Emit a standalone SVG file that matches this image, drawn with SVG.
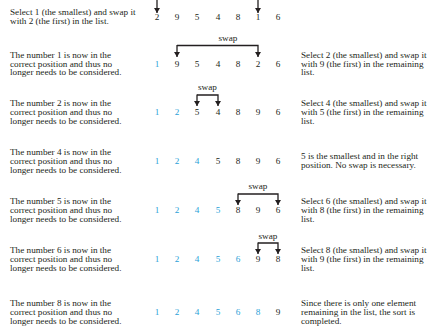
<svg xmlns="http://www.w3.org/2000/svg" width="432" height="331" viewBox="0 0 432 331" font-family="Liberation Serif, Times New Roman, serif" font-size="9.2">
<style>
text{font-family:'Liberation Serif','Times New Roman',serif;font-size:9.2px;fill:#231f20}
.n{text-anchor:middle}
.b{fill:#2a9fd8}
.sw{text-anchor:middle}
.c{fill:none;stroke:#231f20;stroke-width:1.3}
</style>
<defs>
<marker id="ah" markerUnits="userSpaceOnUse" markerWidth="5" markerHeight="6" refX="5" refY="3" orient="auto">
<path d="M0,0 L5,3 L0,6 z" fill="#231f20"/>
</marker>
</defs>
<rect width="432" height="331" fill="#fff"/>
<g id="connectors">
<path class="c" d="M157,0 V13" marker-end="url(#ah)"/>
<path class="c" d="M258,0 V13" marker-end="url(#ah)"/>
<path class="c" d="M177,45.5 H258 V57" marker-end="url(#ah)"/>
<path class="c" d="M177,45 V57" marker-end="url(#ah)"/>
<path class="c" d="M197,95 H218 V106" marker-end="url(#ah)"/>
<path class="c" d="M197,94.5 V106" marker-end="url(#ah)"/>
<path class="c" d="M238,194 H278 V205" marker-end="url(#ah)"/>
<path class="c" d="M238,193.5 V205" marker-end="url(#ah)"/>
<path class="c" d="M258,243 H278 V254" marker-end="url(#ah)"/>
<path class="c" d="M258,242.5 V254" marker-end="url(#ah)"/>
</g>
<g id="row1">
<text x="10" y="15">Select 1 (the smallest) and swap it</text>
<text x="10" y="23.5">with 2 (the first) in the list.</text>
<text class="n" x="157" y="19.5">2</text><text class="n" x="177" y="19.5">9</text><text class="n" x="197" y="19.5">5</text><text class="n" x="218" y="19.5">4</text><text class="n" x="238" y="19.5">8</text><text class="n" x="258" y="19.5">1</text><text class="n" x="278" y="19.5">6</text>
</g>
<g id="row2">
<text class="sw" x="228" y="41">swap</text>
<text x="10" y="58">The number 1 is now in the</text>
<text x="10" y="66.5">correct position and thus no</text>
<text x="10" y="75">longer needs to be considered.</text>
<text class="n b" x="157" y="66.5">1</text><text class="n" x="177" y="66.5">9</text><text class="n" x="197" y="66.5">5</text><text class="n" x="218" y="66.5">4</text><text class="n" x="238" y="66.5">8</text><text class="n" x="258" y="66.5">2</text><text class="n" x="278" y="66.5">6</text>
<text x="301" y="58">Select 2 (the smallest) and swap it</text>
<text x="301" y="66.5">with 9 (the first) in the remaining</text>
<text x="301" y="75">list.</text>
</g>
<g id="row3">
<text class="sw" x="207.5" y="90">swap</text>
<text x="10" y="106">The number 2 is now in the</text>
<text x="10" y="115">correct position and thus no</text>
<text x="10" y="124">longer needs to be considered.</text>
<text class="n b" x="157" y="115">1</text><text class="n b" x="177" y="115">2</text><text class="n" x="197" y="115">5</text><text class="n" x="218" y="115">4</text><text class="n" x="238" y="115">8</text><text class="n" x="258" y="115">9</text><text class="n" x="278" y="115">6</text>
<text x="301" y="106">Select 4 (the smallest) and swap it</text>
<text x="301" y="115">with 5 (the first) in the remaining</text>
<text x="301" y="124">list.</text>
</g>
<g id="row4">
<text x="10" y="155">The number 4 is now in the</text>
<text x="10" y="164">correct position and thus no</text>
<text x="10" y="173">longer needs to be considered.</text>
<text class="n b" x="157" y="164">1</text><text class="n b" x="177" y="164">2</text><text class="n b" x="197" y="164">4</text><text class="n" x="218" y="164">5</text><text class="n" x="238" y="164">8</text><text class="n" x="258" y="164">9</text><text class="n" x="278" y="164">6</text>
<text x="301" y="159">5 is the smallest and in the right</text>
<text x="301" y="168">position. No swap is necessary.</text>
</g>
<g id="row5">
<text class="sw" x="258" y="189">swap</text>
<text x="10" y="204">The number 5 is now in the</text>
<text x="10" y="213">correct position and thus no</text>
<text x="10" y="222">longer needs to be considered.</text>
<text class="n b" x="157" y="213">1</text><text class="n b" x="177" y="213">2</text><text class="n b" x="197" y="213">4</text><text class="n b" x="218" y="213">5</text><text class="n" x="238" y="213">8</text><text class="n" x="258" y="213">9</text><text class="n" x="278" y="213">6</text>
<text x="301" y="204">Select 6 (the smallest) and swap it</text>
<text x="301" y="213">with 8 (the first) in the remaining</text>
<text x="301" y="222">list.</text>
</g>
<g id="row6">
<text class="sw" x="268" y="239">swap</text>
<text x="10" y="253">The number 6 is now in the</text>
<text x="10" y="262">correct position and thus no</text>
<text x="10" y="271">longer needs to be considered.</text>
<text class="n b" x="157" y="262">1</text><text class="n b" x="177" y="262">2</text><text class="n b" x="197" y="262">4</text><text class="n b" x="218" y="262">5</text><text class="n b" x="238" y="262">6</text><text class="n" x="258" y="262">9</text><text class="n" x="278" y="262">8</text>
<text x="301" y="253">Select 8 (the smallest) and swap it</text>
<text x="301" y="262">with 9 (the first) in the remaining</text>
<text x="301" y="271">list.</text>
</g>
<g id="row7">
<text x="10" y="306">The number 8 is now in the</text>
<text x="10" y="315">correct position and thus no</text>
<text x="10" y="324">longer needs to be considered.</text>
<text class="n b" x="157" y="315">1</text><text class="n b" x="177" y="315">2</text><text class="n b" x="197" y="315">4</text><text class="n b" x="218" y="315">5</text><text class="n b" x="238" y="315">6</text><text class="n b" x="258" y="315">8</text><text class="n" x="278" y="315">9</text>
<text x="301" y="306">Since there is only one element</text>
<text x="301" y="315">remaining in the list, the sort is</text>
<text x="301" y="324">completed.</text>
</g>
</svg>
